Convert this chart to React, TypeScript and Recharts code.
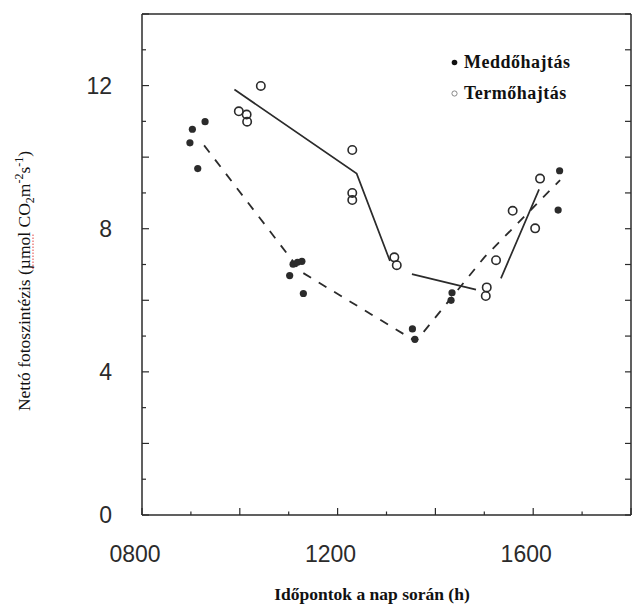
import {
  ComposedChart,
  Label,
  Legend,
  Line,
  ReferenceLine,
  Scatter,
  XAxis,
  YAxis,
} from "recharts";

const INK = "#2b2b2b";
const SERIF = "'Liberation Serif', 'DejaVu Serif', serif";
const SANS = "'Liberation Sans', Arial, sans-serif";

// measured points, time of day in decimal hours
const meddoTimes = [8.98, 9.03, 9.29, 9.14, 11.02, 11.09, 11.18, 11.27, 11.3, 13.53, 13.58, 14.32, 14.34, 16.51, 16.54];
const meddoValues = [10.4, 10.78, 10.99, 9.68, 6.69, 7.01, 7.06, 7.09, 6.19, 5.2, 4.91, 6.0, 6.21, 8.52, 9.62];

const termoTimes = [9.98, 10.14, 10.15, 10.43, 12.3, 12.3, 12.3, 13.16, 13.21, 15.03, 15.05, 15.24, 15.58, 16.04, 16.14];
const termoValues = [11.28, 11.19, 10.99, 11.99, 10.2, 9.0, 8.8, 7.2, 6.98, 6.12, 6.36, 7.12, 8.5, 8.01, 9.4];

// trend lines (null splits the solid one into separate pieces)
const meddoTrendTimes = [9.27, 11.25, 13.6, 15.0, 16.55];
const meddoTrendValues = [10.33, 6.8, 4.85, 7.2, 9.36];
const termoTrendTimes = [9.89, 12.39, 13.07, 13.3, 13.52, 14.83, 15.1, 15.34, 16.12];
const termoTrendValues: (number | null)[] = [11.89, 9.54, 7.1, null, 6.73, 6.3, null, 6.61, 9.1];

const xTicks = [8, 9, 10, 11, 12, 13, 14, 15, 16, 17, 18];
const xLabelTicks = [8, 12, 16];
const yTicks = [0, 1, 2, 3, 4, 5, 6, 7, 8, 9, 10, 11, 12, 13, 14];
const yLabelTicks = [0, 4, 8, 12];

const zip = (xs: number[], ys: (number | null)[]) => xs.map((x, i) => ({ x, y: ys[i] }));

const meddo = zip(meddoTimes, meddoValues);
const termo = zip(termoTimes, termoValues);
const meddoTrend = zip(meddoTrendTimes, meddoTrendValues);
const termoTrend = zip(termoTrendTimes, termoTrendValues);

const hhmm = (h: number) => String(h * 100).padStart(4, "0");

// ticks point into the plot, so the tick line is drawn here too
function BottomTick({ x, y, payload }: any) {
  const v = payload.value;
  const len = v % 2 === 0 ? 7 : 3.5;
  return (
    <g>
      <line x1={x} y1={y} x2={x} y2={y - len} stroke={INK} strokeWidth={1.2} />
      {xLabelTicks.includes(v) && (
        <text x={x - 7} y={y + 47} textAnchor="middle" fontFamily={SANS} fontSize={23} fill={INK}>
          {hhmm(v)}
        </text>
      )}
    </g>
  );
}

function LeftTick({ x, y, payload }: any) {
  const v = payload.value;
  const len = v % 2 === 0 ? 7 : 4;
  return (
    <g>
      <line x1={x} y1={y} x2={x + len} y2={y} stroke={INK} strokeWidth={1.2} />
      {yLabelTicks.includes(v) && (
        <text x={x - 30} y={y + 8} textAnchor="end" fontFamily={SANS} fontSize={23} fill={INK}>
          {v}
        </text>
      )}
    </g>
  );
}

function RightTick({ x, y }: any) {
  return <line x1={x} y1={y} x2={x - 6} y2={y} stroke={INK} strokeWidth={1.2} />;
}

const FilledDot = (p: any) => <circle cx={p.cx} cy={p.cy} r={3.6} fill={INK} />;
const OpenDot = (p: any) => (
  <circle cx={p.cx} cy={p.cy} r={4.2} fill="none" stroke={INK} strokeWidth={1.6} />
);

function LegendBox() {
  const row = { display: "flex", alignItems: "center", height: 31 } as const;
  const txt = {
    fontFamily: SERIF,
    fontWeight: 700,
    fontSize: 18,
    letterSpacing: 0.5,
    color: "#111",
    marginLeft: 6,
  };
  return (
    <div>
      <div style={row}>
        <svg width={7} height={7}>
          <circle cx={3.5} cy={3.5} r={2.8} fill="#111" />
        </svg>
        <span style={txt}>Meddőhajtás</span>
      </div>
      <div style={row}>
        <svg width={7} height={7}>
          <circle cx={3.5} cy={3.5} r={2.6} fill="none" stroke="#888" strokeWidth={1} />
        </svg>
        <span style={txt}>Termőhajtás</span>
      </div>
    </div>
  );
}

function YTitle() {
  return (
    <g transform="translate(30,281) rotate(-90)">
      <text x={0} y={0} textAnchor="middle" fontFamily={SERIF} fontSize={17.5} fill="#111">
        Nettó fotoszintézis (µmol CO
        <tspan dy={4} fontSize={12}>2</tspan>
        <tspan dy={-4}>m</tspan>
        <tspan dy={-7} fontSize={12}>-2</tspan>
        <tspan dy={7}>s</tspan>
        <tspan dy={-7} fontSize={12}>-1</tspan>
        <tspan dy={7}>)</tspan>
      </text>
      {/* spell-check squiggle under "µmol" */}
      <line x1={12} y1={3} x2={47} y2={3} stroke="#e04040" strokeWidth={1} strokeDasharray="1.5 1.5" />
    </g>
  );
}

export default function App() {
  return (
    <div style={{ position: "absolute", left: 0, top: 0, background: "#fff" }}>
      <ComposedChart width={634} height={610} margin={{ top: 14, right: 0, bottom: 0, left: 0 }}>
        <XAxis
          type="number"
          dataKey="x"
          domain={[8, 18]}
          ticks={xTicks}
          interval={0}
          tickSize={0}
          tickMargin={0}
          tick={BottomTick}
          height={95}
          axisLine={{ stroke: INK, strokeWidth: 1.5 }}
          allowDataOverflow
        >
          <Label
            content={() => (
              <text x={372} y={600} textAnchor="middle" fontFamily={SERIF} fontWeight={700} fontSize={17.5} fill="#111">
                Időpontok a nap során (h)
              </text>
            )}
          />
        </XAxis>
        <YAxis
          type="number"
          domain={[0, 14]}
          ticks={yTicks}
          interval={0}
          tickSize={0}
          tickMargin={0}
          tick={LeftTick}
          width={142}
          axisLine={{ stroke: INK, strokeWidth: 1.5 }}
          allowDataOverflow
        >
          <Label content={() => <YTitle />} />
        </YAxis>
        <YAxis
          yAxisId="right"
          orientation="right"
          type="number"
          domain={[0, 14]}
          ticks={yTicks}
          interval={0}
          tickSize={0}
          tickMargin={0}
          tick={RightTick}
          width={3}
          axisLine={{ stroke: INK, strokeWidth: 1.5 }}
          allowDataOverflow
        />
        <ReferenceLine y={14} stroke={INK} strokeWidth={1.5} />
        <Legend verticalAlign="middle" content={LegendBox} wrapperStyle={{ top: 47, left: 451, width: "auto" }} />

        <Line
          data={meddoTrend}
          dataKey="y"
          type="linear"
          stroke={INK}
          strokeWidth={1.8}
          strokeDasharray="9 9"
          dot={false}
          activeDot={false}
          legendType="none"
          isAnimationActive={false}
        />
        <Line
          data={termoTrend}
          dataKey="y"
          type="linear"
          stroke={INK}
          strokeWidth={1.7}
          dot={false}
          activeDot={false}
          legendType="none"
          isAnimationActive={false}
        />
        <Scatter data={meddo} dataKey="y" name="Meddőhajtás" shape={FilledDot} isAnimationActive={false} />
        <Scatter data={termo} dataKey="y" name="Termőhajtás" shape={OpenDot} isAnimationActive={false} />
      </ComposedChart>
    </div>
  );
}
